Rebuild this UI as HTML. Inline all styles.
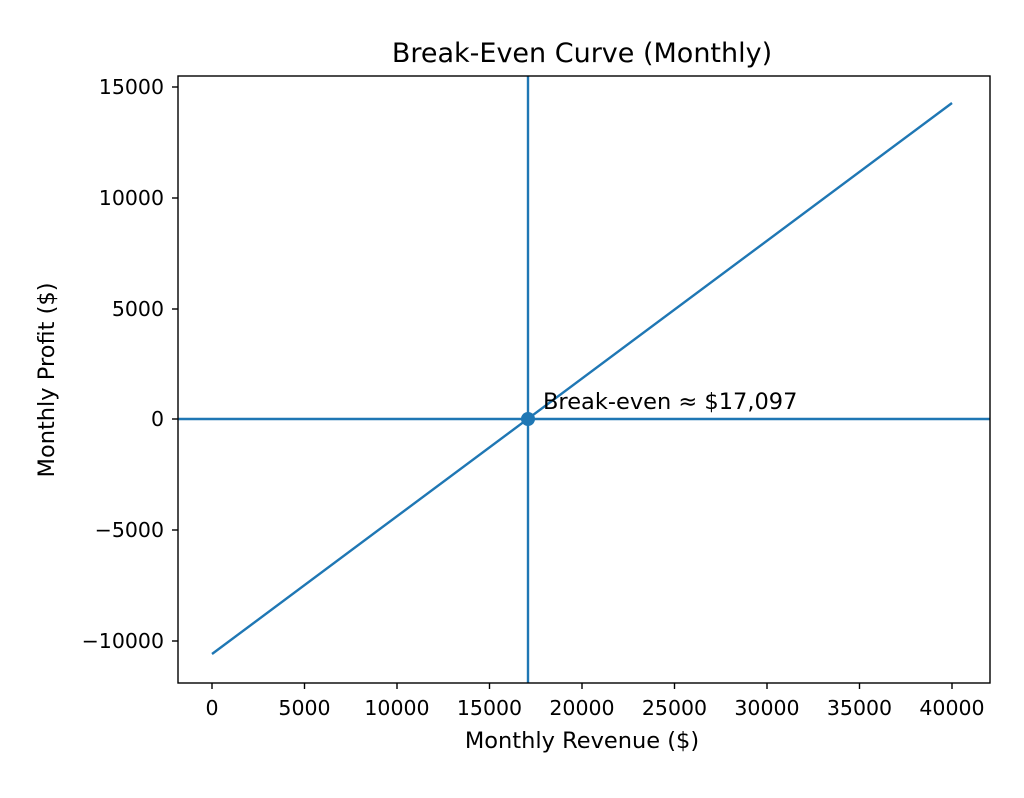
<!DOCTYPE html>
<html><head><style>body{margin:0;background:#fff}</style></head><body>
<svg width="1024" height="793" xmlns="http://www.w3.org/2000/svg" font-family="DejaVu Sans, Liberation Sans, sans-serif">
<rect width="1024" height="793" fill="#fff"/>
<text x="582" y="62" font-size="27" text-anchor="middle" fill="#000">Break-Even Curve (Monthly)</text>
<g stroke="#1f77b4" stroke-width="2.4" fill="none">
<line x1="528" y1="76" x2="528" y2="683"/>
<line x1="178" y1="419" x2="990" y2="419"/>
<line x1="212" y1="654" x2="952" y2="103"/>
</g>
<circle cx="528" cy="419" r="7" fill="#1f77b4"/>
<text x="543" y="409" font-size="22.5" fill="#000">Break-even ≈ $17,097</text>
<rect x="178" y="76" width="812" height="607" fill="none" stroke="#000" stroke-width="1.4"/>
<g stroke="#000" stroke-width="1.4">
<line x1="212" y1="683" x2="212" y2="689"/><line x1="304.5" y1="683" x2="304.5" y2="689"/>
<line x1="397" y1="683" x2="397" y2="689"/><line x1="489.5" y1="683" x2="489.5" y2="689"/>
<line x1="582" y1="683" x2="582" y2="689"/><line x1="674.5" y1="683" x2="674.5" y2="689"/>
<line x1="767" y1="683" x2="767" y2="689"/><line x1="859.5" y1="683" x2="859.5" y2="689"/>
<line x1="952" y1="683" x2="952" y2="689"/>
<line x1="172" y1="87" x2="178" y2="87"/><line x1="172" y1="198" x2="178" y2="198"/>
<line x1="172" y1="309" x2="178" y2="309"/><line x1="172" y1="419" x2="178" y2="419"/>
<line x1="172" y1="530" x2="178" y2="530"/><line x1="172" y1="641" x2="178" y2="641"/>
</g>
<g font-size="20.5" fill="#000" text-anchor="middle">
<text x="212" y="715">0</text><text x="304.5" y="715">5000</text><text x="397" y="715">10000</text>
<text x="489.5" y="715">15000</text><text x="582" y="715">20000</text><text x="674.5" y="715">25000</text>
<text x="767" y="715">30000</text><text x="859.5" y="715">35000</text><text x="952" y="715">40000</text>
</g>
<g font-size="20.5" fill="#000" text-anchor="end">
<text x="164" y="94">15000</text><text x="164" y="205">10000</text><text x="164" y="316">5000</text>
<text x="164" y="426">0</text><text x="164" y="537">−5000</text><text x="164" y="648">−10000</text>
</g>
<text x="582" y="748" font-size="22.5" text-anchor="middle" fill="#000">Monthly Revenue ($)</text>
<text transform="translate(54,380) rotate(-90)" font-size="22.5" text-anchor="middle" fill="#000">Monthly Profit ($)</text>
</svg>
</body></html>
